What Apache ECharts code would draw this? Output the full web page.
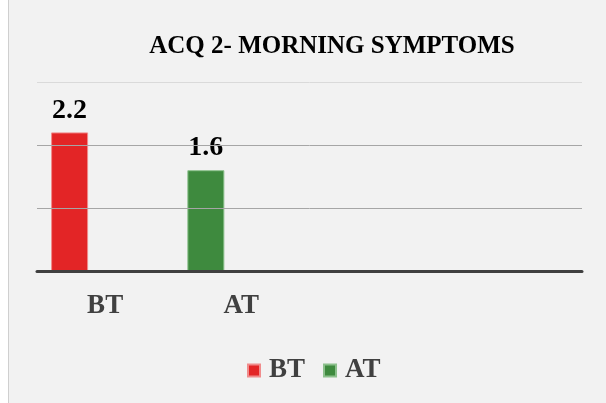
<!DOCTYPE html>
<html>
<head>
<meta charset="utf-8">
<script src="https://cdn.jsdelivr.net/npm/echarts@6/dist/echarts.min.js"></script>
<style>
  html, body { margin: 0; padding: 0; background: #ffffff; }
  #chart { position: absolute; left: 8px; top: 0; width: 597px; height: 403px;
           background: #f2f2f2; border-left: 1px solid #cfcfcf; }
</style>
</head>
<body>
<div id="chart"></div>
<script>
var categories = ["BT", "AT", "", ""];
var btValues = [2.2, null, null, null];
var atValues = [null, 1.6, null, null];
var yTicks = [0, 1, 2, 3];

var font = "'Liberation Serif', 'DejaVu Serif', serif";
var chart = echarts.init(document.getElementById("chart"));

var option = {
  backgroundColor: "#f2f2f2",
  animation: false,
  title: {
    text: "ACQ 2- MORNING SYMPTOMS",
    left: 318,
    textAlign: "center",
    top: 29,
    textStyle: { fontFamily: font, fontSize: 25, fontWeight: "bold", color: "#000000" }
  },
  legend: {
    data: ["BT", "AT"],
    left: 233,
    top: 352,
    icon: "rect",
    itemWidth: 12,
    itemHeight: 12,
    itemGap: 18,
    textStyle: {
      fontFamily: font, fontSize: 27, fontWeight: "bold", color: "#404040",
      padding: [0, 0, 0, 4]
    }
  },
  grid: { left: 28, right: 24, top: 82, bottom: 132, containLabel: false },
  xAxis: {
    type: "category",
    data: categories,
    axisTick: { show: false },
    axisLine: { lineStyle: { color: "#404040", width: 3 } },
    axisLabel: { margin: 22, fontFamily: font, fontSize: 27, fontWeight: "bold", color: "#404040" },
    z: 5
  },
  yAxis: {
    type: "value",
    min: yTicks[0],
    max: yTicks[yTicks.length - 1],
    interval: 1,
    axisLabel: { show: false },
    axisLine: { show: false },
    axisTick: { show: false },
    splitLine: { lineStyle: { color: ["#a6a6a6", "#a6a6a6", "#a6a6a6", "#dadada"], width: 1 } },
    z: 4
  },
  series: [
    {
      name: "BT",
      type: "bar",
      stack: "one",
      data: btValues,
      barWidth: 37,
      barGap: "92%",
      itemStyle: { color: "#e32526", borderColor: "#f08c8c", borderWidth: 1 },
      label: {
        show: true, position: "top", distance: 8,
        fontFamily: font, fontSize: 28, fontWeight: "bold", color: "#000000"
      }
    },
    {
      name: "AT",
      type: "bar",
      stack: "one",
      data: atValues,
      barWidth: 37,
      barGap: "92%",
      itemStyle: { color: "#3e8a3e", borderColor: "#8cc08c", borderWidth: 1 },
      label: {
        show: true, position: "top", distance: 8,
        fontFamily: font, fontSize: 28, fontWeight: "bold", color: "#000000"
      }
    },
    {
      name: "spacer",
      type: "bar",
      data: [],
      barWidth: 37,
      barGap: "92%"
    }
  ]
};

chart.setOption(option);
</script>
</body>
</html>
